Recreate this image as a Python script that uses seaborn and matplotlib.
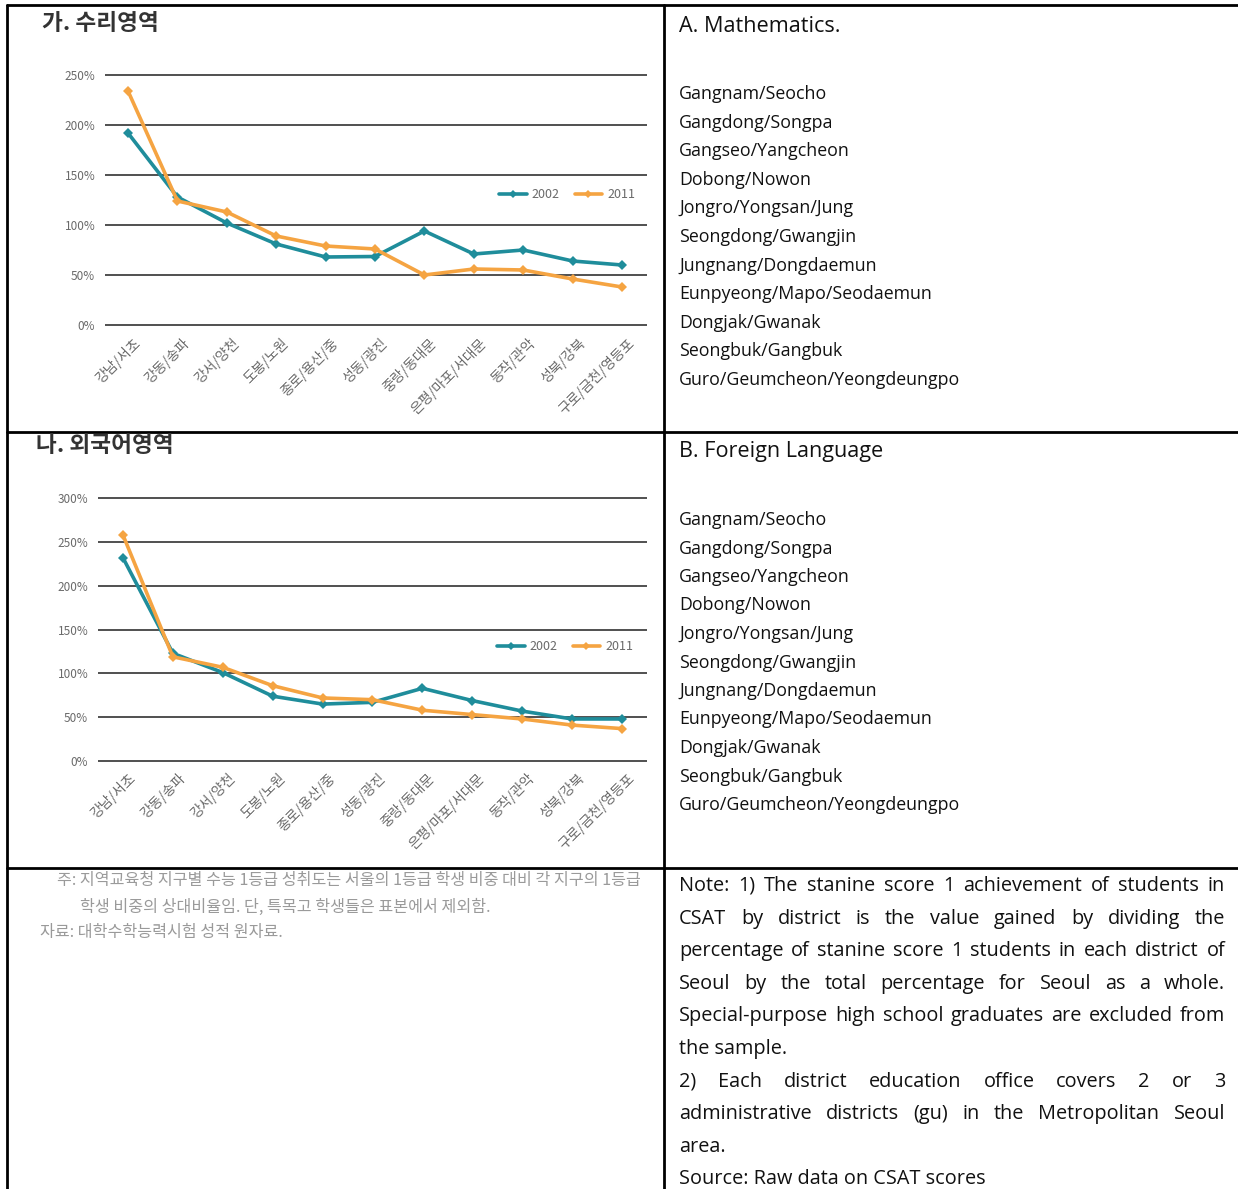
import numpy as np
import pandas as pd
import matplotlib
matplotlib.use("Agg")
import matplotlib.pyplot as plt
import matplotlib.transforms as mtransforms
from matplotlib.lines import Line2D
import seaborn as sns

# data
districts = ['강남/서초', '강동/송파', '강서/양천', '도봉/노원', '종로/용산/중', '성동/광진',
             '중랑/동대문', '은평/마포/서대문', '동작/관악', '성북/강북', '구로/금천/영등포']
districts_en = ['Gangnam/Seocho', 'Gangdong/Songpa', 'Gangseo/Yangcheon', 'Dobong/Nowon',
                'Jongro/Yongsan/Jung', 'Seongdong/Gwangjin', 'Jungnang/Dongdaemun',
                'Eunpyeong/Mapo/Seodaemun', 'Dongjak/Gwanak', 'Seongbuk/Gangbuk',
                'Guro/Geumcheon/Yeongdeungpo']
years = ['2002', '2011']
math_2002 = [192, 128, 102, 81, 68, 68.5, 94, 71, 75, 64, 60]
math_2011 = [234, 124, 113, 89, 79, 76, 50, 56, 55, 46, 38]
lang_2002 = [232, 123, 101, 74, 65, 67, 83, 69, 57, 48, 48]
lang_2011 = [258, 119, 107, 86, 72, 70, 58, 53, 48, 41, 37]
math_ticks = [0, 50, 100, 150, 200, 250]
lang_ticks = [0, 50, 100, 150, 200, 250, 300]

note_ko = ['주: 지역교육청 지구별 수능 1등급 성취도는 서울의 1등급 학생 비중 대비 각 지구의 1등급',
           '학생 비중의 상대비율임. 단, 특목고 학생들은 표본에서 제외함.',
           '자료: 대학수학능력시험 성적 원자료.']
note_en = [('Note: 1) The stanine score 1 achievement of students in', True),
           ('CSAT by district is the value gained by dividing the', True),
           ('percentage of stanine score 1 students in each district of', True),
           ('Seoul by the total percentage for Seoul as a whole.', True),
           ('Special-purpose high school graduates are excluded from', True),
           ('the sample.', False),
           ('2) Each district education office covers 2 or 3', True),
           ('administrative districts (gu) in the Metropolitan Seoul', True),
           ('area.', False),
           ('Source: Raw data on CSAT scores', False)]

palette = {'2002': '#1f8d9b', '2011': '#f5a442'}

sns.set_theme(style='white')
plt.rcParams['font.family'] = ['Noto Sans CJK KR', 'DejaVu Sans']

W, H = 1238, 1189
fig = plt.figure(figsize=(W / 100, H / 100), dpi=100)


def fx(x):
    return x / W


def fy(y):
    return 1 - y / H


def make_chart(v2002, v2011, ticks, left, right, y0, ytop, x_first, x_last, legend_xy):
    ymax = ticks[-1]
    ppu = (y0 - ytop) / ymax
    pad = 5
    bottom_px = y0 + pad * ppu
    top_px = ytop - pad * ppu
    ax = fig.add_axes([fx(left), fy(bottom_px), (right - left) / W, (bottom_px - top_px) / H])
    df = pd.DataFrame({
        'district': districts * 2,
        'value': v2002 + v2011,
        'year': [years[0]] * len(districts) + [years[1]] * len(districts),
    })
    sns.lineplot(data=df, x='district', y='value', hue='year', palette=palette,
                 marker='D', markersize=5, markeredgewidth=0, linewidth=2.6,
                 sort=False, ax=ax, legend=True)
    step = (x_last - x_first) / (len(districts) - 1)
    ax.set_xlim(-(x_first - left) / step, len(districts) - 1 + (right - x_last) / step)
    ax.set_ylim(-pad, ymax + pad)
    ax.set_yticks(ticks)
    ax.set_yticklabels([f'{t}%' for t in ticks], color='#6a6a6a', fontsize=8.5)
    ax.tick_params(axis='y', length=0, pad=7)
    ax.tick_params(axis='x', length=0, pad=2)
    for t in ticks:
        ax.axhline(t, color='#505050', linewidth=1.4, zorder=0)
    for s in ax.spines.values():
        s.set_visible(False)
    ax.set_xlabel('')
    ax.set_ylabel('')
    ax.set_xticks(range(len(districts)))
    ax.set_xticklabels(districts, rotation=45, ha='right', va='center',
                       rotation_mode='anchor', color='#6a6a6a', fontsize=10)
    off = mtransforms.ScaledTranslation(0.10, -0.08, fig.dpi_scale_trans)
    for lbl in ax.get_xticklabels():
        lbl.set_transform(lbl.get_transform() + off)
    lx = (legend_xy[0] - left) / (right - left)
    ly = (bottom_px - legend_xy[1]) / (bottom_px - top_px)
    leg = ax.legend(loc='center', bbox_to_anchor=(lx, ly), ncol=2, frameon=False,
                    fontsize=9, handlelength=2.2, columnspacing=1.2, handletextpad=0.4,
                    markerscale=0.9)
    for t in leg.get_texts():
        t.set_color('#6a6a6a')
    return ax


make_chart(math_2002, math_2011, math_ticks, 105, 647, 325, 75, 128, 622, (567, 195))
make_chart(lang_2002, lang_2011, lang_ticks, 98, 647, 761, 498.3, 123, 622, (565, 647))

# chart titles
fig.text(fx(42), fy(23), '가. 수리영역', fontsize=16.3, color='#333333', va='center', weight='bold')
fig.text(fx(36), fy(446), '나. 외국어영역', fontsize=16.3, color='#333333', va='center', weight='bold')

# korean note (bottom left)
ko_size = 11.6
fig.text(fx(57), fy(881), note_ko[0], fontsize=ko_size, color='#9a9a9a', va='center')
fig.text(fx(80), fy(907), note_ko[1], fontsize=ko_size, color='#9a9a9a', va='center')
fig.text(fx(40), fy(932), note_ko[2], fontsize=ko_size, color='#9a9a9a', va='center')

# english column
en_font = ['Open Sans', 'DejaVu Sans']
head_size, list_size, note_size = 15.6, 12.8, 14.3
fig.text(fx(679), fy(26), 'A. Mathematics.', fontsize=head_size, color='#111111', va='center', family=en_font)
fig.text(fx(679), fy(451), 'B. Foreign Language', fontsize=head_size, color='#111111', va='center', family=en_font)
for i, name in enumerate(districts_en):
    fig.text(fx(679), fy(94 + i * 28.6), name, fontsize=list_size, color='#111111', va='center', family=en_font)
    fig.text(fx(679), fy(520 + i * 28.5), name, fontsize=list_size, color='#111111', va='center', family=en_font)

renderer = fig.canvas.get_renderer()
x_left, x_right = 679, 1225
for i, (line, justify) in enumerate(note_en):
    y = fy(886 + i * 32.6)
    if not justify:
        fig.text(fx(x_left), y, line, fontsize=note_size, color='#111111', va='center', family=en_font)
        continue
    words = line.split(' ')
    items = [fig.text(0, y, w, fontsize=note_size, color='#111111', va='center', family=en_font) for w in words]
    widths = [t.get_window_extent(renderer).width for t in items]
    gap = (x_right - x_left - sum(widths)) / (len(words) - 1)
    x = x_left
    for t, wd in zip(items, widths):
        t.set_x(fx(x))
        x += wd + gap

# table borders
lw = 2.0
for (x1, y1, x2, y2) in [(7, 5, W, 5), (7, 5, 7, H), (664, 5, 664, H),
                         (7, 432, W, 432), (7, 868, W, 868)]:
    fig.add_artist(Line2D([fx(x1), fx(x2)], [fy(y1), fy(y2)], color='black',
                          linewidth=lw, transform=fig.transFigure))

fig.savefig('out.png', dpi=100)
